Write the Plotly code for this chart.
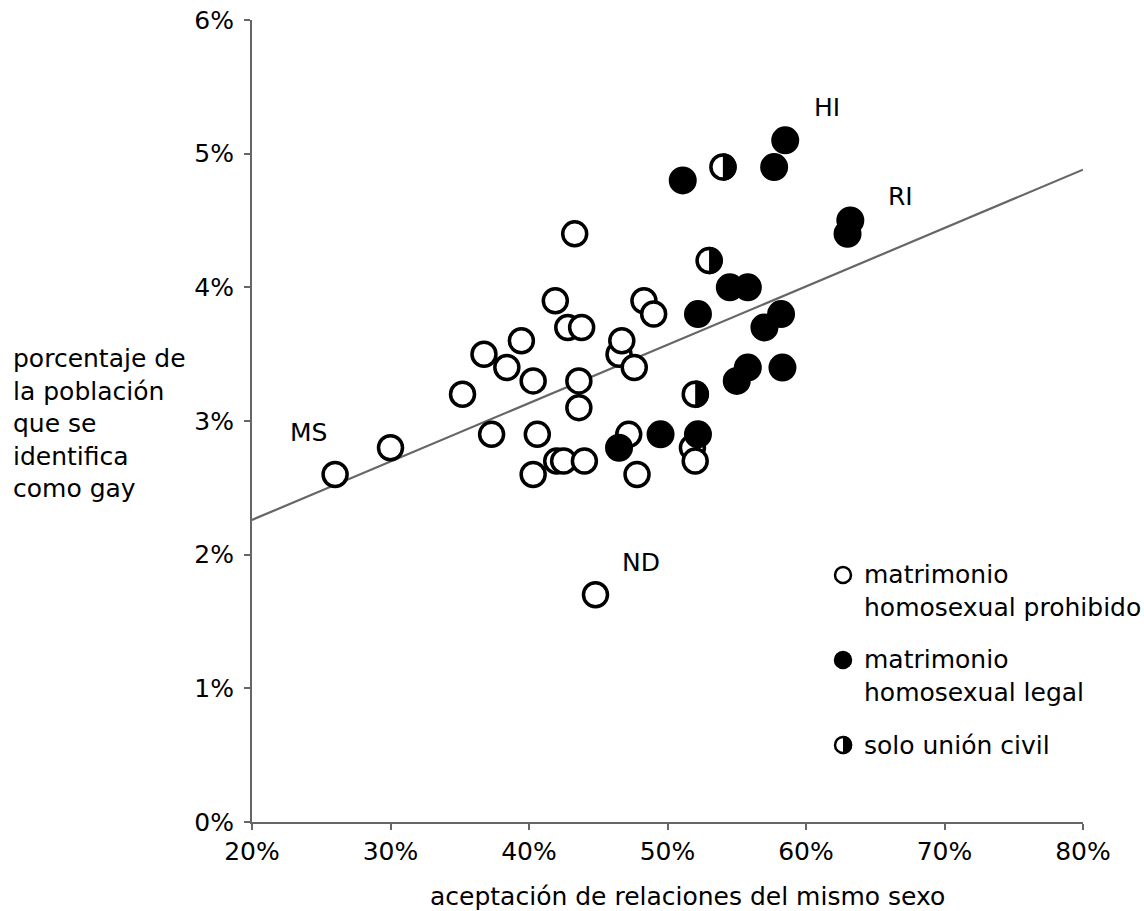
import plotly.graph_objects as go

# --- data: acceptance of same-sex relations (%) vs share identifying as gay (%) ---

# same-sex marriage banned
ban_accept = [26.0, 30.0, 35.2, 36.75, 37.3, 38.4, 39.45, 40.3, 40.3, 40.6,
              41.9, 42.0, 42.5, 44.0, 42.8, 43.3, 43.6, 43.6, 43.8, 44.8,
              46.5, 46.7, 47.2, 47.6, 47.8, 48.3, 49.0, 51.8, 52.0]
ban_gay = [2.6, 2.8, 3.2, 3.5, 2.9, 3.4, 3.6, 3.3, 2.6, 2.9,
           3.9, 2.7, 2.7, 2.7, 3.7, 4.4, 3.3, 3.1, 3.7, 1.7,
           3.5, 3.6, 2.9, 3.4, 2.6, 3.9, 3.8, 2.8, 2.7]
ban_label = ["MS", "", "", "", "", "", "", "", "", "",
             "", "", "", "", "", "", "", "", "", "ND",
             "", "", "", "", "", "", "", "", ""]

# same-sex marriage legal
legal_accept = [51.1, 58.5, 57.7, 63.2, 63.0, 54.5, 55.8, 52.2, 58.2, 57.0,
                55.8, 58.3, 55.0, 49.5, 52.2, 46.5]
legal_gay = [4.8, 5.1, 4.9, 4.5, 4.4, 4.0, 4.0, 3.8, 3.8, 3.7,
             3.4, 3.4, 3.3, 2.9, 2.9, 2.8]
legal_label = ["", "HI", "", "RI", "", "", "", "", "", "",
               "", "", "", "", "", ""]

# civil union only
civil_accept = [54.0, 53.0, 52.0]
civil_gay = [4.9, 4.2, 3.2]

# linear trend over all states: [slope, intercept]
trend_coef = [0.04367, 1.3867]

x_ticks = [20, 30, 40, 50, 60, 70, 80]
y_ticks = [0, 1, 2, 3, 4, 5, 6]
x_tick_text = ["20%", "30%", "40%", "50%", "60%", "70%", "80%"]
y_tick_text = ["0%", "1%", "2%", "3%", "4%", "5%", "6%"]

legend_text = ["matrimonio<br>homosexual prohibido",
               "matrimonio<br>homosexual legal",
               "solo unión civil"]

x_title = "aceptación de relaciones del mismo sexo"
y_title = "porcentaje de<br>la población<br>que se<br>identifica<br>como gay"

# --- styling ---
FONT = "DejaVu Sans"
FS = 25
AXIS_GREY = "#666666"
MARK_SIZE = 24
MARK_LINE = 3.5
HALF_R = 13.9

# pixel offsets of the state labels relative to their point
label_offset = {"MS": (-27, 42), "HI": (42, 33), "RI": (50, 24), "ND": (46, 32)}


def right_half_disc(r):
    """Pixel-space path of the right half of a disc centred on the anchor."""
    k = 0.5523 * r
    return (f"M 0,{-r} L 0,{r} C {k},{r} {r},{k} {r},0 "
            f"C {r},{-k} {k},{-r} 0,{-r} Z")


fig = go.Figure()

trend_x = [x_ticks[0], x_ticks[-1]]
trend_y = [trend_coef[0] * v + trend_coef[1] for v in trend_x]
fig.add_trace(go.Scatter(
    x=trend_x, y=trend_y, mode="lines",
    line=dict(color=AXIS_GREY, width=2.2), hoverinfo="skip", showlegend=False))

fig.add_trace(go.Scatter(
    x=ban_accept, y=ban_gay, mode="markers", showlegend=False,
    marker=dict(symbol="circle", size=MARK_SIZE, color="white",
                line=dict(color="black", width=MARK_LINE))))

fig.add_trace(go.Scatter(
    x=legal_accept, y=legal_gay, mode="markers", showlegend=False,
    marker=dict(symbol="circle", size=MARK_SIZE + 0.5, color="black",
                line=dict(color="black", width=MARK_LINE))))

fig.add_trace(go.Scatter(
    x=civil_accept, y=civil_gay, mode="markers", showlegend=False,
    marker=dict(symbol="circle", size=MARK_SIZE, color="white",
                line=dict(color="black", width=MARK_LINE))))

# black right half on the civil-union markers
for cx, cy in zip(civil_accept, civil_gay):
    fig.add_shape(type="path", xref="x", yref="y",
                  xsizemode="pixel", ysizemode="pixel",
                  xanchor=cx, yanchor=cy, path=right_half_disc(HALF_R),
                  fillcolor="black", line=dict(width=0))

# state labels
for xs, ys, labels in ((ban_accept, ban_gay, ban_label),
                       (legal_accept, legal_gay, legal_label)):
    for px, py, lab in zip(xs, ys, labels):
        if lab:
            dx, dy = label_offset[lab]
            fig.add_annotation(x=px, y=py, xref="x", yref="y", text=lab,
                               showarrow=False, xshift=dx, yshift=dy,
                               font=dict(family=FONT, size=FS, color="black"))

# legend built from shapes and text
leg_x = 0.7112
leg_text_x = 0.734
leg_mark_y = [0.308, 0.202, 0.096]
leg_text_y = [0.288, 0.182, 0.095]
leg_r = 8
for i, (my, ty, txt) in enumerate(zip(leg_mark_y, leg_text_y, legend_text)):
    fill = "black" if i == 1 else "white"
    fig.add_shape(type="circle", xref="paper", yref="paper",
                  xsizemode="pixel", ysizemode="pixel",
                  xanchor=leg_x, yanchor=my,
                  x0=-leg_r, x1=leg_r, y0=-leg_r, y1=leg_r,
                  fillcolor=fill, line=dict(color="black", width=2.5))
    if i == 2:
        fig.add_shape(type="path", xref="paper", yref="paper",
                      xsizemode="pixel", ysizemode="pixel",
                      xanchor=leg_x, yanchor=my,
                      path=right_half_disc(leg_r + 1.25),
                      fillcolor="black", line=dict(width=0))
    fig.add_annotation(x=leg_text_x, y=ty, xref="paper", yref="paper",
                       text=txt, showarrow=False, xanchor="left",
                       yanchor="middle", align="left",
                       font=dict(family=FONT, size=FS, color="black"))

# axis titles
fig.add_annotation(x=0, y=0.497, xref="paper", yref="paper", text=y_title,
                   showarrow=False, xanchor="left", yanchor="middle",
                   align="left", xshift=-241,
                   font=dict(family=FONT, size=FS, color="black"))
fig.add_annotation(x=0.5, y=0, xref="paper", yref="paper", text=x_title,
                   showarrow=False, xanchor="center", yanchor="middle",
                   xshift=20, yshift=-74,
                   font=dict(family=FONT, size=FS, color="black"))

axis_common = dict(showgrid=False, zeroline=False, showline=True,
                   linecolor=AXIS_GREY, linewidth=2, ticks="outside",
                   ticklen=6, tickwidth=2, tickcolor=AXIS_GREY,
                   ticklabeloverflow="allow", automargin=False,
                   tickfont=dict(family=FONT, size=FS, color="black"))

fig.update_layout(
    width=1144, height=911,
    margin=dict(l=252, r=61, t=20, b=89),
    paper_bgcolor="white", plot_bgcolor="white",
    font=dict(family=FONT, size=FS, color="black"),
    xaxis=dict(range=[x_ticks[0], x_ticks[-1]], tickvals=x_ticks,
               ticktext=x_tick_text, **axis_common),
    yaxis=dict(range=[y_ticks[0], y_ticks[-1]], tickvals=y_ticks,
               ticktext=y_tick_text, ticklabelstandoff=5, **axis_common),
    showlegend=False,
)

fig.write_html("out.html")
